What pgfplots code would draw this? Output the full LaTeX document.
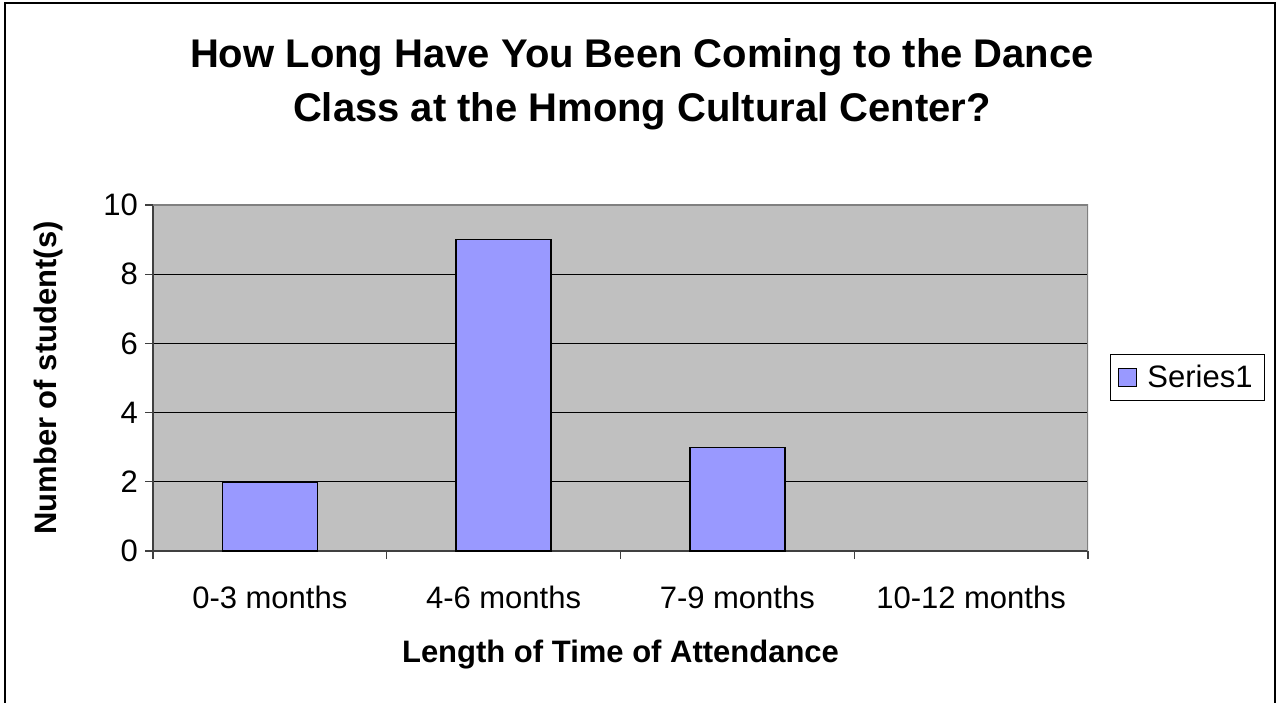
\documentclass[border=0pt]{standalone}
\usepackage{pgfplots}
\pgfplotsset{compat=1.18}
\usepackage{fontspec}
\setmainfont{Liberation Sans}

\definecolor{plotgray}{HTML}{C0C0C0}
\definecolor{barblue}{HTML}{9999FF}
\definecolor{edgegray}{HTML}{808080}
\definecolor{axisdark}{HTML}{404040}

\begin{document}
\begin{tikzpicture}
\useasboundingbox (0,0) rectangle (639pt,351pt);
\draw[line width=0.8pt] (2.5pt,-2pt) -- (2.5pt,349.5pt) -- (637.5pt,349.5pt) -- (637.5pt,-2pt);
\node[align=center, font=\bfseries\fontsize{20}{27}\selectfont] at (321pt,309pt)
  {How Long Have You Been Coming to the Dance\\Class at the Hmong Cultural Center?};
\begin{axis}[
  at={(76.5pt,75.5pt)}, anchor=south west,
  scale only axis,
  width=467.5pt, height=173pt,
  xmin=-0.5, xmax=3.5,
  ymin=0, ymax=10,
  ytick={0,2,4,6,8,10},
  xtick={-0.5,0.5,1.5,2.5,3.5},
  xticklabels={0-3 months,4-6 months,7-9 months,10-12 months,},
  xticklabel style={xshift=58.4pt, yshift=-10pt},
  tick label style={font=\fontsize{15.5}{17}\selectfont},
  /pgf/number format/assume math mode=true,
  tick align=outside,
  major tick length=4pt,
  tick style={axisdark, line width=0.6pt},
  axis x line*=bottom,
  axis y line*=left,
  axis line style={axisdark, line width=0.8pt, -},
  ymajorgrids,
  grid style={black, line width=0.5pt},
  axis background/.style={fill=plotgray},
  xlabel={Length of Time of Attendance},
  ylabel={Number of student(s)},
  label style={font=\bfseries\fontsize{15.5}{17}\selectfont},
  xlabel style={at={(axis description cs:0.5,-0.30)}, anchor=center},
  ylabel style={at={(axis description cs:-0.112,0.5)}, anchor=center},
  legend style={at={(1.0235,0.501)}, anchor=west, draw=black, line width=0.5pt,
    font=\fontsize{15.5}{17}\selectfont, inner xsep=4pt, inner ysep=3pt},
  legend image code/.code={\draw[#1, line width=0.5pt] (0pt,-4.5pt) rectangle (9pt,4.5pt);},
]
\draw[edgegray, line width=0.8pt] (rel axis cs:0,1) -- (rel axis cs:1,1) -- (rel axis cs:1,0);
\addplot[ybar, bar width=47.5pt, fill=barblue, draw=black, line width=0.7pt]
  coordinates {(0,2) (1,9) (2,3)};
\addlegendentry{\hspace{3pt}Series1\hspace{6pt}}
\end{axis}
\end{tikzpicture}
\end{document}
